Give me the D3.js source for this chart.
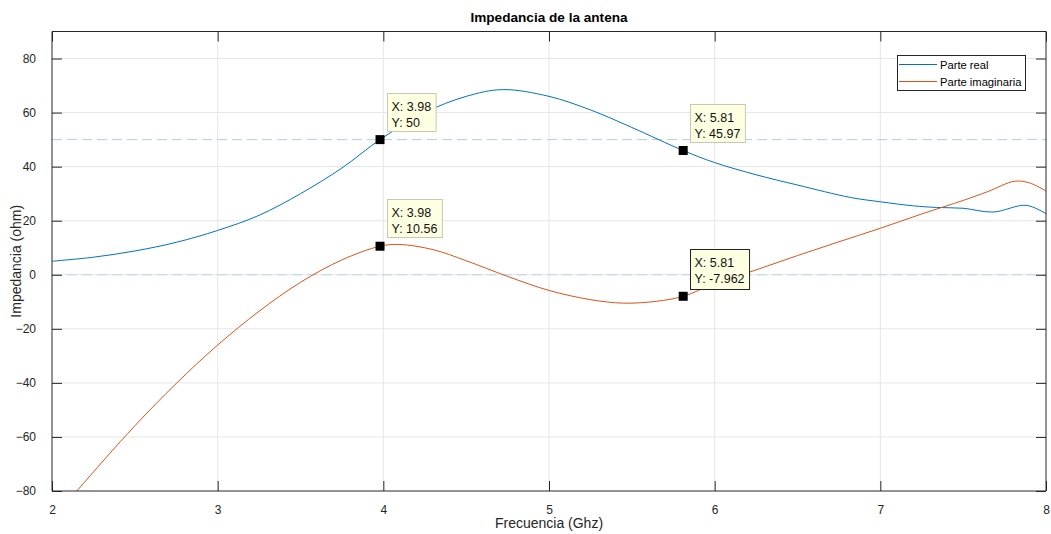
<!DOCTYPE html>
<html><head><meta charset="utf-8">
<script src="https://cdn.jsdelivr.net/npm/d3@7"></script>
<style>body{margin:0;background:#fff;} svg{display:block;font-family:"Liberation Sans",Arial,Helvetica,sans-serif;}</style>
</head><body><svg id="c" width="1051" height="534"></svg>
<script>
const xTicks = [2,3,4,5,6,7,8];
const yTicks = [-80,-60,-40,-20,0,20,40,60,80];
const realX = [2.0,2.25,2.5,2.75,3.0,3.25,3.5,3.75,3.98,4.25,4.5,4.72,5.0,5.25,5.5,5.81,6.0,6.25,6.5,6.82,7.0,7.2,7.34,7.5,7.68,7.88,8.0];
const realY = [5,6.5,8.8,12,16.4,22,30,39.5,50,60,66,68.5,66,61,54.5,45.97,41.5,37,33.2,28.6,27,25.5,24.9,24.6,23.2,25.7,22.6];
const imagX = [2.0,2.15,2.5,2.75,3.0,3.25,3.5,3.75,3.98,4.1,4.3,4.5,4.75,5.0,5.25,5.45,5.65,5.81,6.0,6.25,6.5,6.75,7.0,7.25,7.5,7.65,7.81,7.9,8.0];
const imagY = [-91,-80,-55.9,-40.2,-26,-13.5,-2.8,5.5,10.56,11.2,9.3,5.2,-0.6,-5.8,-9.2,-10.5,-9.8,-7.962,-3.3,1.8,7.1,12.2,17.2,22.5,27.5,30.8,34.6,34.0,31];
const refLines = [50, 0];
const tips = [
  {x:3.98, y:50, lx:"X: 3.98", ly:"Y: 50", dark:false},
  {x:5.81, y:45.97, lx:"X: 5.81", ly:"Y: 45.97", dark:false},
  {x:3.98, y:10.56, lx:"X: 3.98", ly:"Y: 10.56", dark:false},
  {x:5.81, y:-7.962, lx:"X: 5.81", ly:"Y: -7.962", dark:true}
];
const seriesNames = ["Parte real","Parte imaginaria"];
const colors = ["#0072BD","#D95319"];

const svg = d3.select("#c");
const L=52, R=1046, T=31.5, B=491;
const x = d3.scaleLinear().domain([2,8]).range([L,R]);
const y = d3.scaleLinear().domain([-80,90]).range([B,T]);
const axisCol = "#262626";

svg.append("defs").append("clipPath").attr("id","clip")
  .append("rect").attr("x",L).attr("y",T).attr("width",R-L).attr("height",B-T);

// grid
const g = svg.append("g");
g.selectAll(".gx").data(xTicks.slice(1,-1)).enter().append("line")
  .attr("x1",d=>x(d)).attr("x2",d=>x(d)).attr("y1",T).attr("y2",B)
  .attr("stroke","#e6e6e6").attr("stroke-width",1);
g.selectAll(".gy").data(yTicks.slice(1)).enter().append("line")
  .attr("x1",L).attr("x2",R).attr("y1",d=>y(d)).attr("y2",d=>y(d))
  .attr("stroke","#e6e6e6").attr("stroke-width",1);

// reference dashed lines
g.selectAll(".ref").data(refLines).enter().append("line")
  .attr("x1",L).attr("x2",R).attr("y1",d=>y(d)).attr("y2",d=>y(d))
  .attr("stroke","#a9cdf2").attr("stroke-width",1).attr("stroke-dasharray","10,5")
  .attr("opacity",(d,i)=>i==0?0.95:0.75);

// series
const line = d3.line().curve(d3.curveCatmullRom.alpha(0.5));
const plot = svg.append("g").attr("clip-path","url(#clip)");
plot.append("path").datum(realX.map((v,i)=>[x(v),y(realY[i])]))
  .attr("d",line).attr("fill","none").attr("stroke",colors[0]).attr("stroke-width",1);
plot.append("path").datum(imagX.map((v,i)=>[x(v),y(imagY[i])]))
  .attr("d",line).attr("fill","none").attr("stroke",colors[1]).attr("stroke-width",1);

// axes box with inward ticks
const xa = svg.append("g").attr("transform",`translate(0,${B})`)
  .call(d3.axisBottom(x).tickValues(xTicks).tickSize(-10).tickPadding(14).tickFormat(d3.format("d")));
const xt = svg.append("g").attr("transform",`translate(0,${T})`)
  .call(d3.axisTop(x).tickValues(xTicks).tickSize(-10).tickFormat(""));
const ya = svg.append("g").attr("transform",`translate(${L},0)`)
  .call(d3.axisLeft(y).tickValues(yTicks).tickSize(-10).tickPadding(16));
const yr = svg.append("g").attr("transform",`translate(${R},0)`)
  .call(d3.axisRight(y).tickValues(yTicks).tickSize(-10).tickFormat(""));
[xa,xt,ya,yr].forEach(a=>{
  a.select(".domain").attr("stroke",axisCol).attr("stroke-width",1);
  a.selectAll(".tick line").attr("stroke",axisCol);
  a.selectAll(".tick text").attr("fill",axisCol).style("font-size","12px")
    .style("font-family","'Liberation Sans',Arial,sans-serif");
});
xa.select(".domain").attr("d",`M${L},0H${R}`);
xt.select(".domain").attr("d",`M${L},0H${R}`);
ya.select(".domain").attr("d",`M0,${T}V${B}`);
yr.select(".domain").attr("d",`M0,${T}V${B}`);

// title & labels
svg.append("text").attr("x",(L+R)/2).attr("y",22).attr("text-anchor","middle")
  .style("font-size","13.6px").style("font-weight","bold").attr("fill","#000").text("Impedancia de la antena");
svg.append("text").attr("x",(L+R)/2).attr("y",528).attr("text-anchor","middle")
  .style("font-size","14px").attr("fill",axisCol).text("Frecuencia (Ghz)");
svg.append("text").attr("transform",`translate(21,${(T+B)/2}) rotate(-90)`).attr("text-anchor","middle")
  .style("font-size","14px").attr("fill",axisCol).text("Impedancia (ohm)");

// legend
const lg = svg.append("g");
lg.append("rect").attr("x",897.5).attr("y",55.5).attr("width",128).attr("height",35)
  .attr("fill","#fff").attr("stroke",axisCol).attr("stroke-width",1);
seriesNames.forEach((n,i)=>{
  const yy = 64.5 + i*17;
  lg.append("line").attr("x1",899).attr("x2",937).attr("y1",yy).attr("y2",yy)
    .attr("stroke",colors[i]).attr("stroke-width",1);
  lg.append("text").attr("x",940).attr("y",yy+4).style("font-size","11.2px").attr("fill","#000").text(n);
});

// datatips
tips.forEach(t=>{
  const mx = x(t.x), my = y(t.y);
  const tg = svg.append("g");
  const bx = Math.round(mx)+7.5, by = Math.round(my)-46.5;
  const rect = tg.append("rect").attr("x",bx).attr("y",by)
    .attr("height",t.dark?40:38)
    .attr("fill","#ffffe1").attr("stroke",t.dark?"#222":"#c8c8b4").attr("stroke-width",1);
  const t1 = tg.append("text").attr("x",bx+4).attr("y",by+17.5)
    .style("font-size","12.5px").attr("fill","#111").text(t.lx);
  const t2 = tg.append("text").attr("x",bx+4).attr("y",by+33.5)
    .style("font-size","12.5px").attr("fill","#111").text(t.ly);
  const w = Math.max(t1.node().getComputedTextLength(), t2.node().getComputedTextLength()) + 9;
  rect.attr("width",w);
  tg.append("rect").attr("x",mx-4.5).attr("y",my-4.5).attr("width",9).attr("height",9).attr("fill","#000");
});
</script></body></html>
